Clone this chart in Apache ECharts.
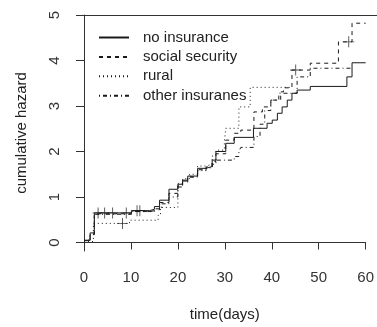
<!DOCTYPE html>
<html>
<head>
<meta charset="utf-8">
<script src="https://cdn.jsdelivr.net/npm/echarts@6/dist/echarts.min.js"></script>
<style>html,body{margin:0;padding:0;background:#fff}#c{width:377px;height:327px}</style>
</head>
<body>
<div id="c"></div>
<script>
var seriesNames = ['no insurance', 'social security', 'rural', 'other insuranes'];
var xTicks = [0, 10, 20, 30, 40, 50, 60];
var yTicks = [0, 1, 2, 3, 4, 5];

var noInsurance = [[0,0.05],[1.3,0.21],[2.2,0.65],[10.1,0.70],[14,0.73],[15,0.79],[16.1,0.93],[18.1,1.17],[20,1.28],[21,1.37],[22.1,1.46],[24.2,1.63],[26,1.67],[27.3,1.81],[28.1,2.0],[30.2,2.18],[32,2.31],[36.1,2.51],[39,2.62],[40.1,2.69],[41.2,2.84],[42.2,2.98],[43.3,3.13],[44.3,3.28],[45.4,3.35],[48.2,3.43],[56,3.64],[57.1,3.95],[60,3.95]];
var socialSecurity = [[0,0.04],[1.3,0.19],[2.2,0.63],[10.1,0.68],[14,0.72],[16.1,0.88],[18.1,1.08],[20,1.25],[21,1.33],[22.1,1.44],[24.2,1.60],[26,1.66],[27.3,1.78],[28.1,1.95],[30.2,2.25],[32,2.40],[33.4,2.47],[36.2,2.87],[38,2.98],[39.8,3.13],[41.9,3.31],[42.5,3.40],[44.3,3.79],[48.2,3.94],[54.2,4.41],[57.1,4.82],[60,4.82]];
var rural = [[0,0.02],[2.0,0.42],[9.7,0.49],[15.8,0.60],[16.3,0.77],[20,1.30],[21,1.40],[22.5,1.50],[24.2,1.68],[26,1.72],[27.3,1.90],[28.1,2.03],[29.9,2.22],[30.2,2.51],[33.0,2.98],[35.4,3.41],[44.3,3.41]];
var otherIns = [[0,0.05],[1.3,0.17],[2.2,0.62],[10.1,0.68],[15,0.74],[16.5,0.85],[18.1,1.0],[20,1.22],[21,1.35],[22.1,1.44],[24.2,1.58],[26,1.64],[27.3,1.72],[28.1,1.81],[32,1.89],[33,2.0],[33.4,2.09],[36.2,2.33],[37.5,2.6],[38.5,2.9],[39.8,3.13],[41.5,3.28],[45.4,3.64],[48.2,3.83],[57,3.83]];

var censorNoIns = [[3.0,0.65],[4.4,0.65],[6.1,0.65],[9.0,0.65],[11.3,0.70],[11.9,0.70]];
var censorRural = [[8.2,0.42]];
var censorSocial = [[45.1,3.79],[56.4,4.41]];

var lineColor = '#1a1a1a';
var dashTypes = ['solid', [4,4], [1,3], [1,3,4,3]];
var curves = [noInsurance, socialSecurity, rural, otherIns];
var plusPath = 'path://M-0.08,-1h0.16v0.92h0.92v0.16h-0.92v0.92h-0.16v-0.92h-0.92v-0.16h0.92z';

var series = curves.map(function (d, i) {
  return {
    name: seriesNames[i], type: 'line', step: 'end', data: d,
    symbol: 'none', silent: true, animation: false,
    lineStyle: { color: lineColor, width: 1, type: dashTypes[i] },
    itemStyle: { color: lineColor }
  };
});
[censorNoIns, censorRural, censorSocial].forEach(function (d) {
  series.push({
    type: 'scatter', data: d, symbol: plusPath, symbolSize: 11,
    itemStyle: { color: lineColor }, silent: true, animation: false, z: 3
  });
});

var chart = echarts.init(document.getElementById('c'), null, { renderer: 'canvas' });
var axisColor = '#333';
var font = 'Liberation Sans, Arial, sans-serif';
chart.setOption({
  animation: false,
  backgroundColor: '#fff',
  grid: { left: 84, right: 10, top: 15, bottom: 76 },
  legend: {
    data: seriesNames.map(function (n) { return { name: n }; }),
    orient: 'vertical', left: 98, top: 30, padding: 0,
    itemWidth: 30, itemHeight: 14, itemGap: 4.4,
    itemStyle: { opacity: 0 },
    textStyle: { fontFamily: font, fontSize: 15, color: '#222', padding: [0, 0, 0, 9] },
    selectedMode: false
  },
  xAxis: {
    type: 'value', min: 0, max: 60, interval: 10,
    name: 'time(days)', nameLocation: 'middle', nameGap: 56,
    nameTextStyle: { fontFamily: font, fontSize: 15, color: '#222' },
    axisLine: { show: true, lineStyle: { color: axisColor, width: 1 } },
    axisTick: { show: true, length: 7, lineStyle: { color: axisColor } },
    axisLabel: { fontFamily: font, fontSize: 15, color: '#333', margin: 19 },
    splitLine: { show: false }
  },
  yAxis: {
    type: 'value', min: -0.187, max: 5,
    name: 'cumulative hazard', nameLocation: 'middle', nameGap: 55,
    nameTextStyle: { fontFamily: font, fontSize: 15, color: '#222' },
    axisLine: { show: true, onZero: false, lineStyle: { color: axisColor, width: 1 } },
    axisTick: { show: true, length: 8, customValues: yTicks, lineStyle: { color: axisColor } },
    axisLabel: { fontFamily: font, fontSize: 15, color: '#333', rotate: 90, margin: 22, customValues: yTicks },
    splitLine: { show: false }
  },
  series: series
});
var topLeft = chart.convertToPixel({ gridIndex: 0 }, [0, 5]);
chart.setOption({
  graphic: [{
    type: 'line', silent: true,
    shape: { x1: topLeft[0], y1: topLeft[1] + 0.5, x2: 377, y2: topLeft[1] + 0.5 },
    style: { stroke: axisColor, lineWidth: 1 }
  }]
});
</script>
</body>
</html>
